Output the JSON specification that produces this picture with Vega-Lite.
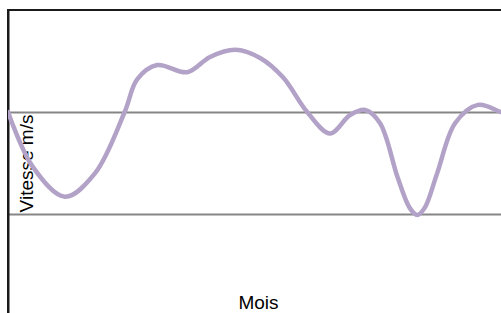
{
  "$schema": "https://vega.github.io/schema/vega-lite/v6.json",
  "autosize": {"type": "none"},
  "padding": {"left": 8, "top": 10, "right": 0, "bottom": 0},
  "width": 500,
  "height": 306,
  "background": "white",
  "config": {
    "view": {"stroke": "#1a1a1a", "strokeWidth": 2},
    "font": "Liberation Sans"
  },
  "data": {
    "values": [
      {"mois": 0, "vitesse": 2.0},
      {"mois": 0.6, "vitesse": 1.46},
      {"mois": 1.37, "vitesse": 1.17},
      {"mois": 2.09, "vitesse": 1.4},
      {"mois": 2.8, "vitesse": 2.0},
      {"mois": 3.1, "vitesse": 2.32},
      {"mois": 3.58, "vitesse": 2.46},
      {"mois": 4.3, "vitesse": 2.39},
      {"mois": 4.85, "vitesse": 2.54},
      {"mois": 5.45, "vitesse": 2.61},
      {"mois": 6.05, "vitesse": 2.53},
      {"mois": 6.6, "vitesse": 2.34},
      {"mois": 7.18, "vitesse": 2.0},
      {"mois": 7.73, "vitesse": 1.79},
      {"mois": 8.21, "vitesse": 1.97},
      {"mois": 8.57, "vitesse": 2.02},
      {"mois": 8.93, "vitesse": 1.89},
      {"mois": 9.35, "vitesse": 1.36},
      {"mois": 9.64, "vitesse": 1.06},
      {"mois": 9.82, "vitesse": 0.99},
      {"mois": 10.0, "vitesse": 1.06},
      {"mois": 10.3, "vitesse": 1.4},
      {"mois": 10.73, "vitesse": 1.89},
      {"mois": 11.28, "vitesse": 2.07},
      {"mois": 11.83, "vitesse": 2.0},
      {"mois": 12, "vitesse": 1.98}
    ]
  },
  "mark": {"type": "line", "interpolate": "catmull-rom", "color": "#b3a2c7", "strokeWidth": 4.5, "strokeCap": "round", "clip": true},
  "encoding": {
    "x": {
      "field": "mois",
      "type": "quantitative",
      "scale": {"domain": [0, 12], "nice": false, "zero": false},
      "axis": {
        "title": "Mois",
        "grid": false,
        "domain": false,
        "ticks": false,
        "labels": false,
        "titleFont": "Liberation Sans",
        "titleFontSize": 19,
        "titleFontWeight": "normal",
        "titleColor": "black",
        "titleBaseline": "alphabetic",
        "titleY": -8
      }
    },
    "y": {
      "field": "vitesse",
      "type": "quantitative",
      "scale": {"domain": [0, 3], "nice": false},
      "axis": {
        "title": "Vitesse m/s",
        "values": [1, 2],
        "grid": true,
        "gridColor": "#868686",
        "gridWidth": 2,
        "gridOpacity": 1,
        "domain": true,
        "domainColor": "#1a1a1a",
        "domainWidth": 2,
        "ticks": false,
        "labels": false,
        "titleFont": "Liberation Sans",
        "titleFontSize": 19,
        "titleFontWeight": "normal",
        "titleColor": "black",
        "titleAngle": -90,
        "titleBaseline": "alphabetic",
        "titleAlign": "center",
        "titleX": 24
      }
    }
  }
}
